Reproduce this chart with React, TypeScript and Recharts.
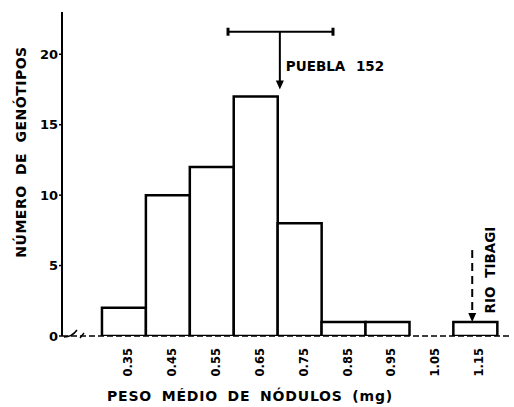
import { Bar, BarChart, ReferenceLine, XAxis, YAxis } from 'recharts';

// bin centres (mg) and number of genotypes in each bin
const binCenters = [0.35, 0.45, 0.55, 0.65, 0.75, 0.85, 0.95, 1.05, 1.15];
const genotypeCounts = [2, 10, 12, 17, 8, 1, 1, 0, 1];
const yTicks = [0, 5, 10, 15, 20];

// cultivar markers: Puebla 152 mean with its range, Rio Tibagi value
const pueblaMean = 0.705;
const pueblaRange = [0.587, 0.826];
const rioTibagi = 1.143;

const data = binCenters.map((bin, i) => ({ bin, count: genotypeCounts[i] }));

const FONT = '"DejaVu Sans", sans-serif';

function XTick({ x, y, payload }: any) {
  const cx = x + 8;
  const cy = y + 4;
  return (
    <text
      x={cx}
      y={cy}
      transform={`rotate(-90 ${cx} ${cy})`}
      textAnchor="end"
      fontFamily={FONT}
      fontWeight="bold"
      fontSize={11.5}
      fill="#000"
    >
      {Number(payload.value).toFixed(2)}
    </text>
  );
}

function RangeShape({ x1, y1, x2, y2 }: any) {
  return (
    <g stroke="#000">
      <line x1={x1} y1={y1} x2={x2} y2={y2} strokeWidth={2} />
      <line x1={x1} y1={y1 - 4} x2={x1} y2={y1 + 4} strokeWidth={3} />
      <line x1={x2} y1={y2 - 4} x2={x2} y2={y2 + 4} strokeWidth={3} />
    </g>
  );
}

function PueblaArrow({ x1, y1, x2, y2 }: any) {
  return (
    <g>
      <line x1={x1} y1={y1} x2={x2} y2={y2 - 7} stroke="#000" strokeWidth={2} />
      <polygon points={`${x2 - 4},${y2 - 9} ${x2 + 4},${y2 - 9} ${x2},${y2}`} fill="#000" />
      <text
        x={x1 + 6}
        y={y2 - 18}
        fontFamily={FONT}
        fontWeight="bold"
        fontSize={13.5}
        fill="#000"
        wordSpacing={6}
      >
        PUEBLA 152
      </text>
    </g>
  );
}

function RioArrow({ x1, y1, x2, y2 }: any) {
  const tx = x1 + 23;
  const ty = y1 + 20;
  return (
    <g>
      <line x1={x1} y1={y1} x2={x2} y2={y2 - 7} stroke="#000" strokeWidth={2} strokeDasharray="8 5" />
      <polygon points={`${x2 - 4},${y2 - 9} ${x2 + 4},${y2 - 9} ${x2},${y2}`} fill="#000" />
      <text
        x={tx}
        y={ty}
        transform={`rotate(-90 ${tx} ${ty})`}
        textAnchor="middle"
        fontFamily={FONT}
        fontWeight="bold"
        fontSize={13.5}
        fill="#000"
        wordSpacing={4}
      >
        RIO TIBAGI
      </text>
    </g>
  );
}

function AxisBreak({ x1, y1 }: any) {
  return (
    <g stroke="#000" strokeWidth={1.5} fill="none">
      <path d={`M ${x1 + 2} ${y1 + 1} Q ${x1 + 10} ${y1 + 1} ${x1 + 15} ${y1 - 6}`} />
      <line x1={x1 + 18} y1={y1 + 2} x2={x1 + 22} y2={y1 - 3} />
    </g>
  );
}

export default function App() {
  return (
    <div style={{ position: 'absolute', left: 0, top: 0, background: '#fff' }}>
      <BarChart
        width={514}
        height={407}
        data={data}
        margin={{ top: 12, right: 4, left: 22, bottom: 31 }}
        barCategoryGap={0}
        barGap={0}
      >
        <XAxis
          type="number"
          dataKey="bin"
          domain={[0.209, 1.229]}
          ticks={binCenters}
          interval={0}
          allowDataOverflow
          height={40}
          tickLine={false}
          axisLine={{ stroke: '#000', strokeWidth: 1.5, strokeDasharray: '6 3' }}
          tick={<XTick />}
          label={{
            content: ({ viewBox }: any) => (
              <text
                x={viewBox.x + viewBox.width / 2 - 36}
                y={viewBox.y + 65}
                textAnchor="middle"
                fontFamily={FONT}
                fontWeight="bold"
                fontSize={14}
                letterSpacing={0.8}
                wordSpacing={4}
                fill="#000"
              >
                PESO MÉDIO DE NÓDULOS (mg)
              </text>
            ),
          }}
        />
        <YAxis
          type="number"
          domain={[0, 23]}
          ticks={yTicks}
          width={40}
          allowDataOverflow
          axisLine={{ stroke: '#000', strokeWidth: 2 }}
          tickLine={{ stroke: '#000', strokeWidth: 1.5 }}
          tickSize={3}
          tickMargin={1}
          tick={{ fill: '#000', fontFamily: FONT, fontWeight: 'bold', fontSize: 13 }}
          label={{
            content: ({ viewBox }: any) => {
              const lx = viewBox.x + 4;
              const ly = viewBox.y + viewBox.height / 2 - 22;
              return (
                <text
                  x={lx}
                  y={ly}
                  transform={`rotate(-90 ${lx} ${ly})`}
                  textAnchor="middle"
                  fontFamily={FONT}
                  fontWeight="bold"
                  fontSize={14}
                  letterSpacing={0.5}
                  wordSpacing={5}
                  fill="#000"
                >
                  NÚMERO DE GENÓTIPOS
                </text>
              );
            },
          }}
        />
        <Bar dataKey="count" fill="#fff" stroke="#000" strokeWidth={2.5} isAnimationActive={false} />
        <ReferenceLine
          segment={[
            { x: pueblaRange[0], y: 21.6 },
            { x: pueblaRange[1], y: 21.6 },
          ]}
          shape={<RangeShape />}
        />
        <ReferenceLine
          segment={[
            { x: pueblaMean, y: 21.6 },
            { x: pueblaMean, y: 17.5 },
          ]}
          shape={<PueblaArrow />}
        />
        <ReferenceLine
          segment={[
            { x: rioTibagi, y: 6.1 },
            { x: rioTibagi, y: 1 },
          ]}
          shape={<RioArrow />}
        />
        <ReferenceLine
          segment={[
            { x: 0.209, y: 0 },
            { x: 0.26, y: 0 },
          ]}
          shape={<AxisBreak />}
        />
      </BarChart>
    </div>
  );
}
